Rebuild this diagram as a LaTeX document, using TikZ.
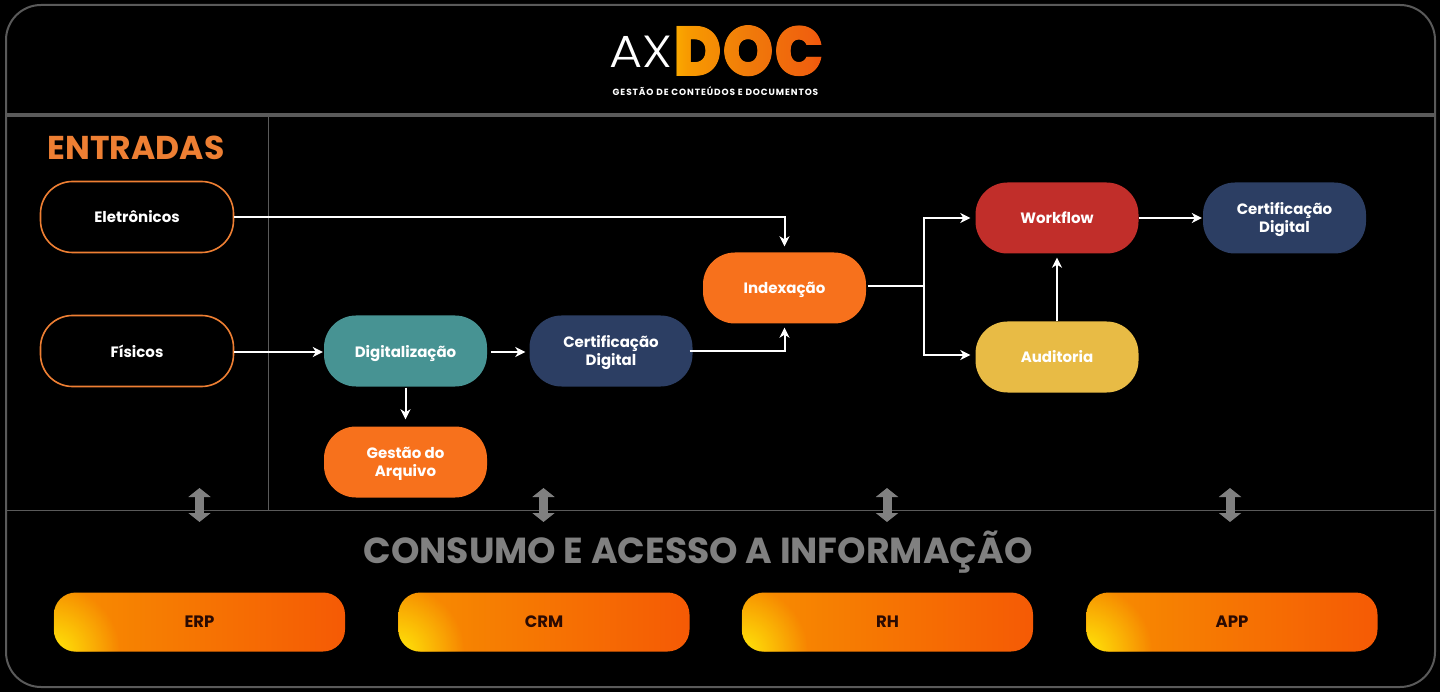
\documentclass[tikz,border=0pt]{standalone}
\usepackage{fontspec}
\setmainfont{Poppins}
\newfontfamily\logolight{Poppins Light}
\newfontfamily\logoblack{Poppins Black}
\usetikzlibrary{positioning,arrows.meta,fadings,shadings,calc}
\definecolor{framegray}{HTML}{5A5A5A}
\definecolor{arrowgray}{HTML}{808080}
\definecolor{entradaorange}{HTML}{EE7F33}
\definecolor{boxorange}{HTML}{F7711C}
\definecolor{boxteal}{HTML}{479393}
\definecolor{boxnavy}{HTML}{2C3E63}
\definecolor{boxred}{HTML}{C12E2A}
\definecolor{boxyellow}{HTML}{E8BB45}
\definecolor{gradyellow}{HTML}{FFE60A}
\definecolor{gradmid}{HTML}{F78F00}
\definecolor{gradend}{HTML}{F55A05}
\definecolor{logoa}{HTML}{FFC400}
\definecolor{logob}{HTML}{F89A00}
\definecolor{logoc}{HTML}{F07A0A}
\definecolor{logod}{HTML}{F0600E}
\definecolor{logoe}{HTML}{F24A0A}
\definecolor{logof}{HTML}{EE2A0A}
\definecolor{sysink}{HTML}{2B0A02}
\pgfdeclarehorizontalshading{docshade}{100bp}{color(0bp)=(logoa);color(19bp)=(logoa);color(30bp)=(logob);color(50bp)=(logoc);color(70bp)=(logod);color(78bp)=(logoe);color(81bp)=(logof);color(100bp)=(logof)}
\tikzfading[name=cornerglow,inner color=transparent!0,outer color=transparent!100]
\begin{tikzfadingfrompicture}[name=docfade]
\node[text=transparent!0,inner sep=0pt,xscale=.93,font=\logoblack\fontsize{71}{71}\selectfont] at (0,0) {DOC};
\end{tikzfadingfrompicture}
\tikzset{
    stagebox/.style={rounded corners=32pt,minimum width=163pt,minimum height=71pt,inner sep=0pt,align=center,text=white,font=\bfseries\fontsize{15}{18}\selectfont},
    entrybox/.style={stagebox,draw=entradaorange,line width=1.6pt,fill=black,minimum width=193pt},
    systembox/.style={rounded corners=22pt,minimum width=291pt,minimum height=59pt,inner sep=0pt,text=sysink,font=\bfseries\fontsize{16.5}{18}\selectfont,left color=gradmid,right color=gradend},
    flowline/.style={draw=white,line width=2pt,-{Stealth[length=10pt,width=10pt,inset=3pt]}},
    flowplain/.style={draw=white,line width=2pt},
    accessarrow/.style={draw=arrowgray,line width=9pt,{Triangle[length=9pt,width=22pt]}-{Triangle[length=9pt,width=22pt]}},
    framerule/.style={draw=framegray,line width=1.8pt}
}
\newcommand{\lowerline}{\rule{0pt}{15pt}}
\begin{document}
\begin{tikzpicture}[x=1pt,y=-1pt]
\useasboundingbox (0,0) rectangle (1440,692);
\fill[black] (0,0) rectangle (1440,692);
\draw[framerule,line width=2pt,rounded corners=35pt] (6,5) rectangle (1435,687);
\draw[framerule,line width=4pt] (6,115) -- (1435,115);
\draw[framerule] (268.5,115) -- (268.5,510.5);
\draw[framerule] (6,510.5) -- (1435,510.5);
% logo
\node[text=white,inner sep=0pt,xscale=1.13,font=\logolight\fontsize{45}{45}\selectfont] (logoax) at (641,52) {AX};
\shade[path fading=docfade,fit fading=false,fading transform={shift={(749,51.5)}},shading=docshade,shading angle=0] (672,20) rectangle (826,82);
\node[text=white,inner sep=0pt,font=\bfseries\fontsize{9}{10}\selectfont\addfontfeature{LetterSpace=10}] (logosub) at (715.5,91) {GESTÃO DE CONTEÚDOS E DOCUMENTOS};
% entradas
\node[text=entradaorange,inner sep=0pt,font=\bfseries\fontsize{33}{36}\selectfont] (entradas) at (136,148) {ENTRADAS};
\node[entrybox] (eletronicos) at (137,217) {Eletrônicos};
\node[entrybox] (fisicos) at (137,351) {Físicos};
\node[stagebox,fill=boxteal,text depth=0pt] (digitalizacao) at (405.5,351) {Digitalização};
\node[stagebox,fill=boxnavy] (certa) at (611,351) {\lowerline Certificação\\Digital};
\node[stagebox,fill=boxorange] (gestao) at (405.5,462) {\lowerline Gestão do\\Arquivo};
\node[stagebox,fill=boxorange,text depth=0pt] (indexacao) at (784.5,288) {Indexação};
\node[stagebox,fill=boxred] (workflow) at (1057,218) {Workflow};
\node[stagebox,fill=boxyellow] (auditoria) at (1057,357) {Auditoria};
\node[stagebox,fill=boxnavy] (certb) at (1284.5,218) {\lowerline Certificação\\Digital};
\coordinate (branch) at (924,286);
\draw[flowline] (eletronicos.east) -| ([yshift=6pt]indexacao.north);
\draw[flowline] ([yshift=-1pt]fisicos.east) -- ([xshift=-1pt,yshift=-1pt]digitalizacao.west);
\draw[flowline] ([xshift=4pt,yshift=-1pt]digitalizacao.east) -- ([xshift=-4pt,yshift=-1pt]certa.west);
\draw[flowline] ([yshift=-1pt]digitalizacao.south) -- ([yshift=7pt]gestao.north);
\draw[flowline] ([xshift=-3pt]certa.east) -| ([yshift=-4pt]indexacao.south);
\draw[flowplain] ([xshift=2pt,yshift=2pt]indexacao.east) -- (branch);
\draw[flowline] (branch) |- ([xshift=-5pt]workflow.west);
\draw[flowline] (branch) |- ([xshift=-5pt,yshift=2pt]auditoria.west);
\draw[flowline] (auditoria.north) -- ([yshift=-4pt]workflow.south);
\draw[flowline] (workflow.east) -- ([xshift=-1pt]certb.west);
% consumo
\node[text=arrowgray,inner sep=0pt,font=\bfseries\fontsize{36.2}{40}\selectfont] (consumo) at (698,552.5) {CONSUMO E ACESSO A INFORMAÇÃO};
\foreach \sysname/\sysx/\arrx in {ERP/199.5/199.5,CRM/544/543.5,RH/887.5/887,APP/1232/1230}{
    \node[systembox] (sys\sysname) at (\sysx,622) {\sysname};
    \begin{scope}
    \clip[rounded corners=22pt] (sys\sysname.south west) rectangle (sys\sysname.north east);
    \fill[gradyellow,path fading=cornerglow] (sys\sysname.south west) circle (66pt);
    \end{scope}
    \coordinate (top\sysname) at (\arrx,488);
    \coordinate (bot\sysname) at (\arrx,522);
    \draw[accessarrow] (top\sysname) -- (bot\sysname);
}
\end{tikzpicture}
\end{document}
